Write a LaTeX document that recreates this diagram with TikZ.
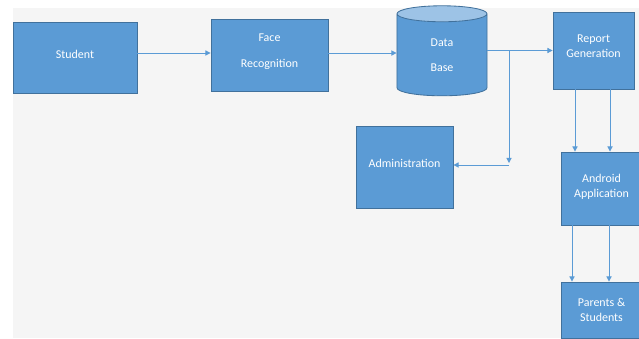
\documentclass[tikz,border=0pt]{standalone}
\usepackage{fontspec}
\setmainfont{Carlito}
\usepackage{tikz}
\usetikzlibrary{positioning, shapes.geometric, arrows.meta}
\definecolor{boxblue}{HTML}{5B9BD5}
\definecolor{edgeblue}{HTML}{41719C}
\definecolor{capblue}{HTML}{9DC3E6}
\definecolor{paper}{HTML}{F5F5F5}

\begin{document}
\begin{tikzpicture}[x=0.025cm, y=-0.025cm, font=\fontsize{8.5}{11}\selectfont,
  block/.style={rectangle, draw=edgeblue, line width=0.6pt, fill=boxblue, text=white, align=center, inner sep=0pt},
  flow/.style={draw=boxblue, line width=0.7pt, -{Triangle[length=1.3mm, width=1.3mm]}}]
\useasboundingbox (0,0) rectangle (639,339);
\fill[paper] (13,8) rectangle (639,338);

\node[block, minimum width=3.1cm, minimum height=1.775cm] (student) at (75,57.5) {Student\\[-6pt]};
\node[block, minimum width=2.925cm, minimum height=1.8cm] (face) at (269.5,55) {Face\\[8pt]Recognition\\[-5pt]};
\node[cylinder, shape border rotate=90, aspect=0.7, draw=edgeblue, line width=0.6pt, cylinder uses custom fill, cylinder body fill=boxblue, cylinder end fill=capblue, text=white, align=center, minimum width=2.25cm, minimum height=2.25cm, inner sep=0pt] (db) at (442,55) {Data\\[7pt]Base};
\node[block, minimum width=2.025cm, minimum height=1.925cm] (report) at (593.5,50.5) {Report\\Generation\\[-5pt]};
\node[block, minimum width=2.425cm, minimum height=2.05cm] (admin) at (404.5,167) {Administration\\[-6pt]};
\node[block, minimum width=2.025cm, minimum height=1.825cm] (android) at (601.5,188.5) {Android\\Application\\[-7pt]};
\node[block, minimum width=2.025cm, minimum height=1.4cm] (parents) at (601.5,310) {Parents \&\\Students};

% main line
\draw[flow] ([yshift=3.2pt]student.east) -- ([yshift=3.2pt]student.east -| face.west);
\draw[flow] ([yshift=1.4pt]face.east) -- ([yshift=1.4pt]face.east -| db.west);
\draw[flow] (db.east |- report.west) -- (report.west);

% branch to administration
\coordinate (branch) at (509,51);
\coordinate (turn) at (509,165);
\draw[flow] (branch) -- ([yshift=1.4pt]turn);
\draw[flow] (turn) -- (turn -| admin.east);

% report down to app, app down to parents
\draw[flow] ([xshift=-0.4625cm]report.south) -- ([xshift=-0.4625cm]report.south |- android.north);
\draw[flow] ([xshift=0.4125cm]report.south) -- ([xshift=0.4125cm]report.south |- android.north);
\draw[flow] ([xshift=-0.7375cm]android.south) -- ([xshift=-0.7375cm]android.south |- parents.north);
\draw[flow] ([xshift=0.1875cm]android.south) -- ([xshift=0.1875cm]android.south |- parents.north);
\end{tikzpicture}
\end{document}
